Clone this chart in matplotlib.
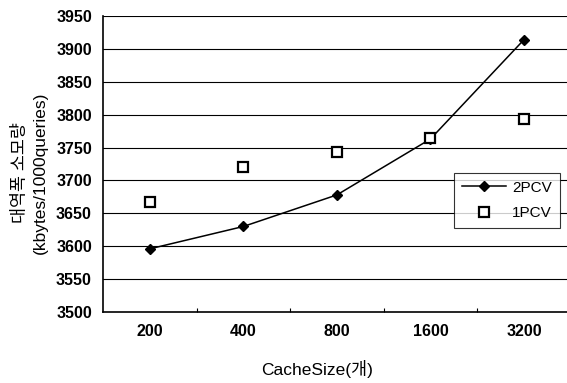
import matplotlib
matplotlib.use("Agg")
import matplotlib.pyplot as plt
from matplotlib.ticker import FixedLocator

plt.rcParams['font.family'] = ['Liberation Sans', 'Noto Sans CJK KR', 'DejaVu Sans']

# data
cache_sizes = ["200", "400", "800", "1600", "3200"]
pcv2 = [3596, 3630, 3678, 3763, 3914]
pcv1 = [3667, 3721, 3743, 3765, 3793]
y_ticks = [3500, 3550, 3600, 3650, 3700, 3750, 3800, 3850, 3900, 3950]

fig = plt.figure(figsize=(5.67, 3.83), dpi=100)
ax = fig.add_axes([0.1817, 0.1854, 0.8183, 0.7728])

x = list(range(len(cache_sizes)))

# grid lines
for v in y_ticks[1:]:
    ax.axhline(v, color="black", lw=0.8, zorder=1)

ax.plot(x, pcv2, color="black", lw=1.1, marker="D", ms=5.5,
        mfc="black", mec="black", label="2PCV", zorder=3)
ax.plot(x, pcv1, ls="none", marker="s", ms=7, mfc="white",
        mec="black", mew=1.6, label="1PCV", zorder=3)

ax.set_xlim(-0.5, 4.46)
ax.set_ylim(3500, 3950)
ax.set_xticks(x)
ax.set_xticklabels(cache_sizes)
ax.set_yticks(y_ticks)
ax.xaxis.set_minor_locator(FixedLocator([0.5, 1.5, 2.5, 3.5]))
ax.tick_params(axis="x", which="major", length=0, pad=9, labelsize=11.5)
ax.tick_params(axis="x", which="minor", direction="in", length=3, width=0.8)
ax.tick_params(axis="y", length=0, pad=8, labelsize=11.5)
for lab in ax.get_xticklabels() + ax.get_yticklabels():
    lab.set_fontweight("bold")

for s in ["top", "right"]:
    ax.spines[s].set_visible(False)
ax.spines["left"].set_linewidth(1.2)
ax.spines["bottom"].set_linewidth(1.2)

ax.set_xlabel("CacheSize(개)", fontsize=12.5)
ax.xaxis.set_label_coords(0.462, -0.163)
ax.set_ylabel("대역폭 소모량\n(kbytes/1000queries)", fontsize=12.5,
              linespacing=1.45)
ax.yaxis.set_label_coords(-0.118, 0.47)

leg = ax.legend(loc="upper left", bbox_to_anchor=(0.757, 0.47), frameon=True,
                fancybox=False, edgecolor="black", fontsize=11,
                handlelength=2.9, borderpad=0.5, labelspacing=0.75,
                handletextpad=0.4, borderaxespad=0)
leg.get_frame().set_linewidth(0.8)

fig.savefig("out.png", dpi=100)
